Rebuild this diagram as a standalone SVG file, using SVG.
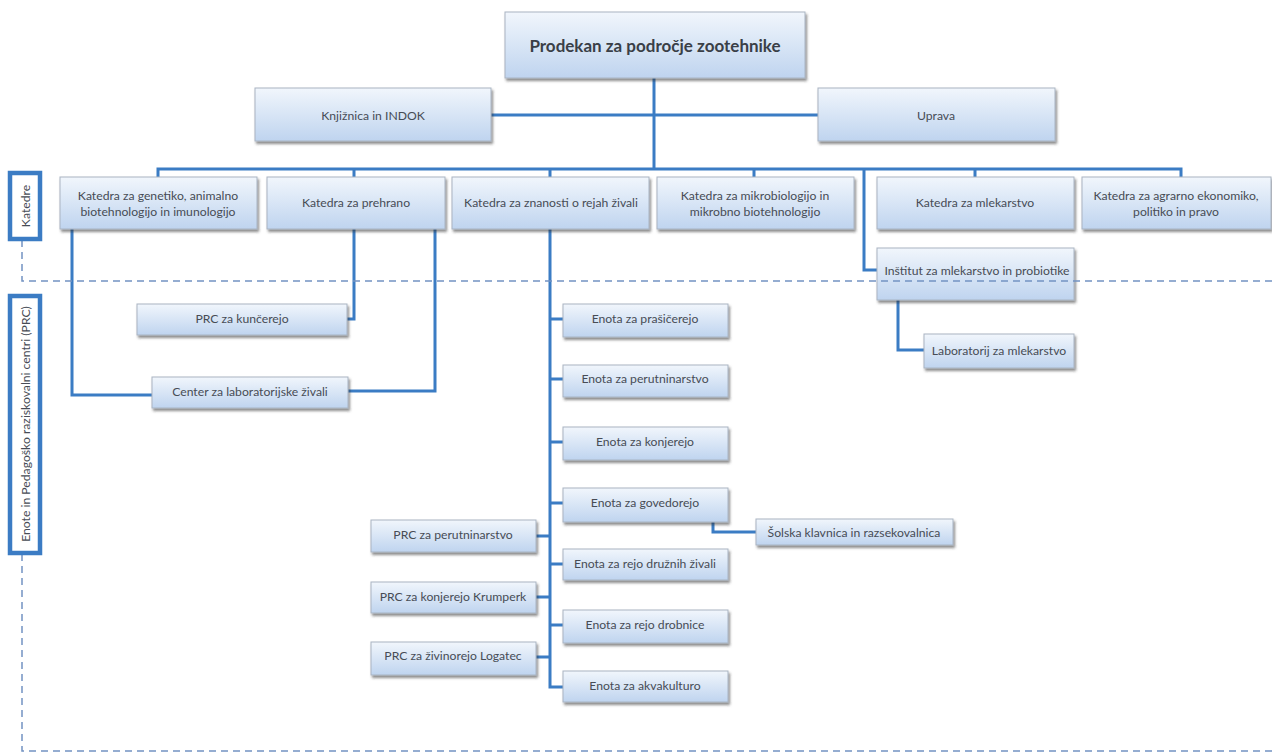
<svg xmlns="http://www.w3.org/2000/svg" width="1272" height="754" viewBox="0 0 1272 754">
<defs>
<linearGradient id="g" x1="0" y1="0" x2="0" y2="1">
<stop offset="0" stop-color="#f1f6fc"/>
<stop offset="1" stop-color="#bfd4ef"/>
</linearGradient>
<filter id="sh" x="-10%" y="-20%" width="120%" height="150%">
<feDropShadow dx="1.5" dy="2.5" stdDeviation="1.2" flood-color="#333" flood-opacity="0.55"/>
</filter>
</defs>
<style>
.b{fill:url(#g);stroke:#a9b4c2;stroke-width:1;filter:url(#sh)}
.t{font-family:Lato,"Liberation Sans",sans-serif;font-size:12.2px;fill:#474c55;text-anchor:middle;dominant-baseline:central}
.tt{font-family:Lato,"Liberation Sans",sans-serif;font-size:17px;font-weight:bold;fill:#3a3f47;text-anchor:middle;dominant-baseline:central}
.c{fill:none;stroke:#3b7cc4;stroke-width:3}
.d{fill:none;stroke:#7393c2;stroke-width:1.5;stroke-dasharray:7 5}
.lab{fill:#fff;stroke:#3b7cc4;stroke-width:4.5}
</style>
<rect width="1272" height="754" fill="#ffffff"/>

<g id="connectors">
<path class="c" d="M654 78V169"/>
<path class="c" d="M491 115H818"/>
<path class="c" d="M158 177V169H1181V177"/>
<path class="c" d="M354 169V177M550 169V177M754 169V177M975 169V177"/>
<path class="c" d="M864 169V270H877"/>
<path class="c" d="M72 229V395H152"/>
<path class="c" d="M354 229V319H347"/>
<path class="c" d="M435 229V391H348"/>
<path class="c" d="M550 229V687H563"/>
<path class="c" d="M550 319H563M550 379H563M550 442H563M550 503H563M550 564H563M550 625H563"/>
<path class="c" d="M536 536H550M536 597H550M536 657H550"/>
<path class="c" d="M713 522V532H756"/>
<path class="c" d="M898 300V350H924"/>
</g>

<g id="n-prodekan"><rect class="b" x="505" y="12" width="300" height="66"/><text class="tt" x="655" y="45">Prodekan za področje zootehnike</text></g>
<g id="n-knjiznica"><rect class="b" x="255" y="88" width="236" height="53"/><text class="t" x="373" y="115">Knjižnica in INDOK</text></g>
<g id="n-uprava"><rect class="b" x="818" y="88" width="237" height="53"/><text class="t" x="936" y="115">Uprava</text></g>

<g id="n-k-genetiko"><rect class="b" x="60" y="177" width="197" height="52"/><text class="t" x="158" y="195">Katedra za genetiko, animalno</text><text class="t" x="158" y="211">biotehnologijo in imunologijo</text></g>
<g id="n-k-prehrano"><rect class="b" x="267" y="177" width="178" height="52"/><text class="t" x="356" y="202">Katedra za prehrano</text></g>
<g id="n-k-znanosti"><rect class="b" x="452" y="177" width="197" height="52"/><text class="t" x="551" y="202">Katedra za znanosti o rejah živali</text></g>
<g id="n-k-mikro"><rect class="b" x="657" y="177" width="197" height="52"/><text class="t" x="755" y="195">Katedra za mikrobiologijo in</text><text class="t" x="755" y="211">mikrobno biotehnologijo</text></g>
<g id="n-k-mlekarstvo"><rect class="b" x="877" y="177" width="197" height="52"/><text class="t" x="975" y="202">Katedra za mlekarstvo</text></g>
<g id="n-k-agrarno"><rect class="b" x="1082" y="177" width="189" height="52"/><text class="t" x="1176" y="195">Katedra za agrarno ekonomiko,</text><text class="t" x="1176" y="211">politiko in pravo</text></g>

<g id="n-institut"><rect class="b" x="877" y="248" width="197" height="52"/><text class="t" x="977" y="270">Inštitut za mlekarstvo in probiotike</text></g>
<g id="n-lab-mlek"><rect class="b" x="924" y="334" width="150" height="34"/><text class="t" x="999" y="350">Laboratorij za mlekarstvo</text></g>

<g id="n-kuncerejo"><rect class="b" x="137" y="304" width="210" height="31"/><text class="t" x="242" y="318">PRC za kunčerejo</text></g>
<g id="n-center-lab"><rect class="b" x="152" y="377" width="196" height="31"/><text class="t" x="250" y="391">Center za laboratorijske živali</text></g>

<g id="n-e-prasicerejo"><rect class="b" x="563" y="304" width="165" height="33"/><text class="t" x="645" y="318">Enota za prašičerejo</text></g>
<g id="n-e-perutnina"><rect class="b" x="563" y="365" width="165" height="32"/><text class="t" x="645" y="378">Enota za perutninarstvo</text></g>
<g id="n-e-konjerejo"><rect class="b" x="563" y="427" width="165" height="33"/><text class="t" x="645" y="441">Enota za konjerejo</text></g>
<g id="n-e-govedorejo"><rect class="b" x="563" y="488" width="165" height="34"/><text class="t" x="645" y="502">Enota za govedorejo</text></g>
<g id="n-e-druzne"><rect class="b" x="563" y="549" width="165" height="31"/><text class="t" x="645" y="563">Enota za rejo družnih živali</text></g>
<g id="n-e-drobnice"><rect class="b" x="563" y="610" width="165" height="33"/><text class="t" x="645" y="624">Enota za rejo drobnice</text></g>
<g id="n-e-akva"><rect class="b" x="563" y="671" width="165" height="31"/><text class="t" x="645" y="685">Enota za akvakulturo</text></g>

<g id="n-solska"><rect class="b" x="756" y="519" width="197" height="26"/><text class="t" x="854" y="532">Šolska klavnica in razsekovalnica</text></g>

<g id="n-prc-perutnina"><rect class="b" x="371" y="520" width="165" height="32"/><text class="t" x="453" y="534">PRC za perutninarstvo</text></g>
<g id="n-prc-krumperk"><rect class="b" x="371" y="582" width="165" height="31"/><text class="t" x="453" y="596">PRC za konjerejo Krumperk</text></g>
<g id="n-prc-logatec"><rect class="b" x="371" y="642" width="165" height="33"/><text class="t" x="453" y="655">PRC za živinorejo Logatec</text></g>

<g id="dividers">
<path class="d" d="M22 240V281H1272"/>
<path class="d" d="M22 554V751H1272"/>
</g>

<g id="lbl-katedre"><rect class="lab" x="10" y="173" width="30" height="66"/><text class="t" transform="translate(25 206) rotate(-90)">Katedre</text></g>
<g id="lbl-enote"><rect class="lab" x="10" y="296" width="30" height="257"/><text class="t" transform="translate(25 424) rotate(-90)">Enote in Pedagoško raziskovalni centri  (PRC)</text></g>
</svg>
